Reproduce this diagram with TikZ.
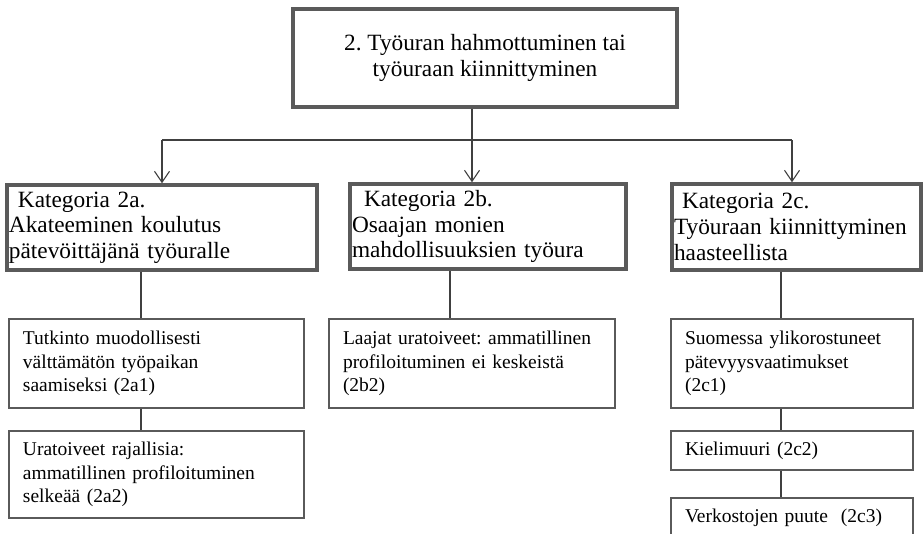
\documentclass[tikz,border=0pt]{standalone}
\usepackage{fontspec}
\setmainfont{Liberation Serif}
\usetikzlibrary{arrows.meta,calc}
\definecolor{bordergray}{HTML}{5A5A5A}
\definecolor{linegray}{HTML}{404040}
\frenchspacing
\tikzset{
  bigbox/.style={draw=bordergray, line width=3.5pt, fill=white, inner xsep=2pt, inner ysep=0pt,
    align=left, font=\fontsize{23.3}{25.7}\selectfont},
  smallbox/.style={draw=bordergray, line width=1.1pt, fill=white, inner xsep=14pt, inner ysep=0pt,
    align=left, font=\fontsize{19.5}{23.3}\selectfont},
  conn/.style={draw=linegray, line width=1.1pt},
  arr/.style={conn, -{Straight Barb[length=11pt,width=15pt,line width=1.1pt]}},
}
\begin{document}
\begin{tikzpicture}[x=1pt,y=-1pt]
\useasboundingbox (0,0) rectangle (923,533);
% top box
\node[bigbox, align=center, minimum width=384pt, minimum height=98pt] (top) at (485,58)
  {2. Työuran hahmottuminen tai\\työuraan kiinnittyminen};
% category boxes
\node[bigbox, text width=306pt, minimum height=85pt] (a) at (162,227.5)
  {\hspace*{9pt}Kategoria 2a.\\Akateeminen koulutus\\pätevöittäjänä työuralle};
\node[bigbox, text width=272pt, minimum height=85pt] (b) at (488,226.5)
  {\hspace*{12pt}Kategoria 2b.\\Osaajan monien\\mahdollisuuksien työura};
\node[bigbox, text width=245pt, minimum height=86pt] (c) at (796.5,227)
  {\hspace*{8pt}Kategoria 2c.\\Työuraan kiinnittyminen\\haasteellista};
% sub boxes
\node[smallbox, text width=267pt, minimum height=89pt] (a1) at (156.5,363.5)
  {Tutkinto muodollisesti\\välttämätön työpaikan\\saamiseksi (2a1)};
\node[smallbox, text width=267pt, minimum height=87pt] (a2) at (156.5,474.5)
  {Uratoiveet rajallisia:\\ammatillinen profiloituminen\\selkeää (2a2)};
\node[smallbox, text width=258pt, minimum height=89pt] (b2) at (472,363.5)
  {Laajat uratoiveet: ammatillinen\\profiloituminen ei keskeistä\\(2b2)};
\node[smallbox, text width=214pt, minimum height=89pt] (c1) at (792,363.5)
  {Suomessa ylikorostuneet\\pätevyysvaatimukset\\(2c1)};
\node[smallbox, text width=214pt, minimum height=39pt] (c2) at (792,450.5)
  {Kielimuuri (2c2)};
\node[smallbox, text width=214pt, minimum height=39pt] (c3) at (792,517.5)
  {Verkostojen puute\ \ (2c3)};
% coordinates for connector tracks
\coordinate (jm) at (472,140);
\coordinate (jl) at (162,140);
\coordinate (jr) at (792,140);
\coordinate (xa) at (141,0);
\coordinate (xb) at (450,0);
\coordinate (xc) at (781,0);
% top connectors
\draw[conn] (top.south -| jm) -- (jm);
\draw[arr] (jm) -- (b.north -| jm);
\draw[conn] (jl) -- (jr);
\draw[arr] (jl) -- (a.north -| jl);
\draw[arr] (jr) -- (c.north -| jr);
% sub connectors
\draw[conn] (a.south -| xa) -- (a1.north -| xa);
\draw[conn] (a1.south -| xa) -- (a2.north -| xa);
\draw[conn] (b.south -| xb) -- (b2.north -| xb);
\draw[conn] (c.south -| xc) -- (c1.north -| xc);
\draw[conn] (c1.south -| xc) -- (c2.north -| xc);
\draw[conn] (c2.south -| xc) -- (c3.north -| xc);
\end{tikzpicture}
\end{document}
